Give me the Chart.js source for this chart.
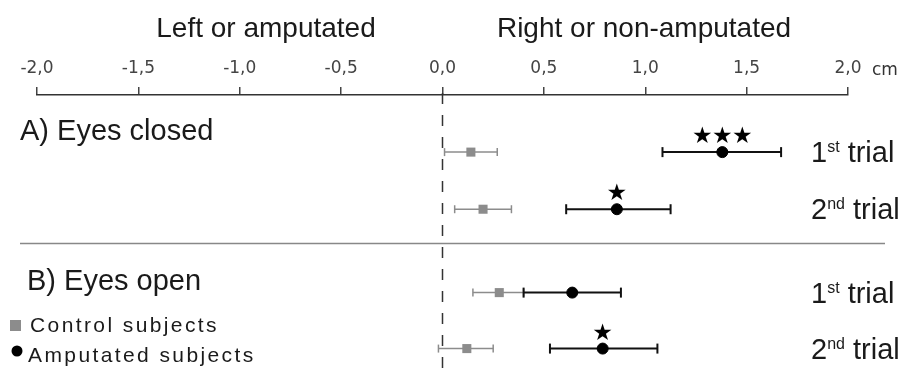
<!DOCTYPE html>
<html>
<head>
<meta charset="utf-8">
<script src="https://cdn.jsdelivr.net/npm/chart.js@4.4.1/dist/chart.umd.min.js"></script>
<style>
  html, body { margin: 0; padding: 0; background: #fff; }
  #wrap { width: 905px; height: 369px; }
</style>
</head>
<body>
<div id="wrap"><canvas id="graph"></canvas></div>
<script>
// данные: 4 строки (A1, A2, B1, B2), значения в см
const trialNums = ['1', '2', '1', '2'];
const trialSups = ['st', 'nd', 'st', 'nd'];
const panelTitles = ['A) Eyes closed', 'B) Eyes open'];
const sideTitles = ['Left or amputated', 'Right or non-amputated'];
const legendLabels = ['Control subjects', 'Amputated subjects'];

const ampMean = [1.38, 0.86, 0.64, 0.79];
const ampLow = [1.085, 0.61, 0.40, 0.53];
const ampHigh = [1.67, 1.125, 0.88, 1.06];
const ampStars = [3, 1, 0, 1];

const ctrlMean = [0.14, 0.20, 0.28, 0.12];
const ctrlLow = [0.01, 0.06, 0.15, -0.02];
const ctrlHigh = [0.27, 0.34, 0.40, 0.25];

const xTicks = [-2, -1.5, -1, -0.5, 0, 0.5, 1, 1.5, 2];

// вертикальные позиции строк (шкала y, сверху вниз)
const rowY = [1, 2, 3.46, 4.44];
const separatorY = 2.6;

const FONT = '"Liberation Sans", Arial, sans-serif';
const GRAY = '#8c8c8c';

function errorBarDatasets(low, high, color, width, cap) {
  return low.map((lo, i) => ({
    type: 'scatter',
    data: [{ x: lo, y: rowY[i] }, { x: high[i], y: rowY[i] }],
    showLine: true,
    borderColor: color,
    borderWidth: width,
    pointStyle: 'line',
    rotation: 90,
    pointRadius: cap,
    pointBorderColor: color,
    pointBorderWidth: width,
    clip: false,
    order: 2
  }));
}

const annotatePlugin = {
  id: 'annotate',
  beforeDatasetsDraw(chart) {
    const ctx = chart.ctx;
    const x = chart.scales.x;
    const y = chart.scales.y;
    const x0 = x.getPixelForValue(0);

    ctx.save();
    // пунктир на нуле
    ctx.strokeStyle = '#333';
    ctx.lineWidth = 1.5;
    ctx.setLineDash([11, 11]);
    ctx.beginPath();
    ctx.moveTo(x0, 93);
    ctx.lineTo(x0, chart.height);
    ctx.stroke();
    ctx.setLineDash([]);

    // разделитель панелей
    const sy = y.getPixelForValue(separatorY);
    ctx.strokeStyle = '#888';
    ctx.lineWidth = 1.5;
    ctx.beginPath();
    ctx.moveTo(20, sy);
    ctx.lineTo(885, sy);
    ctx.stroke();
    ctx.restore();
  },
  afterDraw(chart) {
    const ctx = chart.ctx;
    const x = chart.scales.x;
    const y = chart.scales.y;

    ctx.save();
    ctx.fillStyle = '#1a1a1a';
    ctx.textBaseline = 'alphabetic';

    // заголовки сторон
    ctx.font = '28px ' + FONT;
    ctx.textAlign = 'center';
    ctx.fillText(sideTitles[0], 266, 37);
    ctx.fillText(sideTitles[1], 644, 37);

    // единицы
    ctx.font = '17px "DejaVu Sans", sans-serif';
    ctx.textAlign = 'left';
    ctx.fillStyle = '#333';
    ctx.fillText('cm', 872, 75);

    // панели
    ctx.fillStyle = '#1a1a1a';
    ctx.font = '29px ' + FONT;
    ctx.fillText(panelTitles[0], 20, 140);
    ctx.fillText(panelTitles[1], 27, 290);

    // подписи строк
    rowY.forEach((v, i) => {
      const py = y.getPixelForValue(v) + 10;
      ctx.font = '29px ' + FONT;
      ctx.fillText(trialNums[i], 811, py);
      let w = ctx.measureText(trialNums[i]).width;
      ctx.font = '16px ' + FONT;
      ctx.fillText(trialSups[i], 811 + w, py - 10);
      w += ctx.measureText(trialSups[i]).width;
      ctx.font = '29px ' + FONT;
      ctx.fillText(' trial', 811 + w, py);
    });

    // звёздочки значимости
    ctx.font = '23px "DejaVu Sans", sans-serif';
    ctx.textAlign = 'center';
    ctx.textBaseline = 'middle';
    ctx.fillStyle = '#000';
    ampStars.forEach((n, i) => {
      const cx = x.getPixelForValue(ampMean[i]);
      const cy = y.getPixelForValue(rowY[i]) - 15;
      for (let k = 0; k < n; k++) {
        ctx.fillText('★', cx + (k - (n - 1) / 2) * 20, cy);
      }
    });

    // легенда
    ctx.fillStyle = GRAY;
    ctx.fillRect(10, 320, 11, 11);
    ctx.fillStyle = '#000';
    ctx.beginPath();
    ctx.arc(17, 351, 5.5, 0, Math.PI * 2);
    ctx.fill();

    ctx.fillStyle = '#1a1a1a';
    ctx.textAlign = 'left';
    ctx.textBaseline = 'alphabetic';
    ctx.font = '21px ' + FONT;
    ctx.letterSpacing = '2.4px';
    ctx.fillText(legendLabels[0], 30, 332);
    ctx.fillText(legendLabels[1], 28, 362);
    ctx.letterSpacing = '0px';
    ctx.restore();
  }
};

const datasets = [
  {
    type: 'scatter',
    label: legendLabels[1],
    data: ampMean.map((m, i) => ({ x: m, y: rowY[i] })),
    pointStyle: 'circle',
    pointRadius: 5.5,
    backgroundColor: '#000',
    borderColor: '#000',
    clip: false,
    order: 0
  },
  {
    type: 'scatter',
    label: legendLabels[0],
    data: ctrlMean.map((m, i) => ({ x: m, y: rowY[i] })),
    pointStyle: 'rect',
    pointRadius: 6.4,
    backgroundColor: GRAY,
    borderColor: GRAY,
    borderWidth: 0,
    clip: false,
    order: 1
  },
  ...errorBarDatasets(ampLow, ampHigh, '#111', 2, 5),
  ...errorBarDatasets(ctrlLow, ctrlHigh, GRAY, 1.5, 4)
];

new Chart(document.getElementById('graph'), {
  type: 'scatter',
  data: { datasets },
  options: {
    responsive: true,
    maintainAspectRatio: false,
    animation: false,
    events: [],
    layout: { padding: { left: 37, right: 57, top: 0, bottom: 0 } },
    plugins: {
      legend: { display: false },
      tooltip: { enabled: false }
    },
    scales: {
      x: {
        type: 'linear',
        position: 'top',
        min: -2,
        max: 2,
        afterBuildTicks: (scale) => {
          scale.ticks = xTicks.map(v => ({ value: v }));
        },
        afterFit: (scale) => {
          scale.height = 95;
        },
        ticks: {
          autoSkip: false,
          maxRotation: 0,
          padding: 8,
          color: '#444',
          font: { family: '"DejaVu Sans", sans-serif', size: 17 },
          callback: (v) => v.toFixed(1).replace('.', ',')
        },
        grid: {
          drawOnChartArea: false,
          drawTicks: true,
          tickLength: 8,
          color: '#444',
          lineWidth: 1.5
        },
        border: { display: true, color: '#333', width: 1.5 }
      },
      y: {
        type: 'linear',
        display: false,
        reverse: true,
        min: 0,
        max: 4.675
      }
    }
  },
  plugins: [annotatePlugin]
});
</script>
</body>
</html>
